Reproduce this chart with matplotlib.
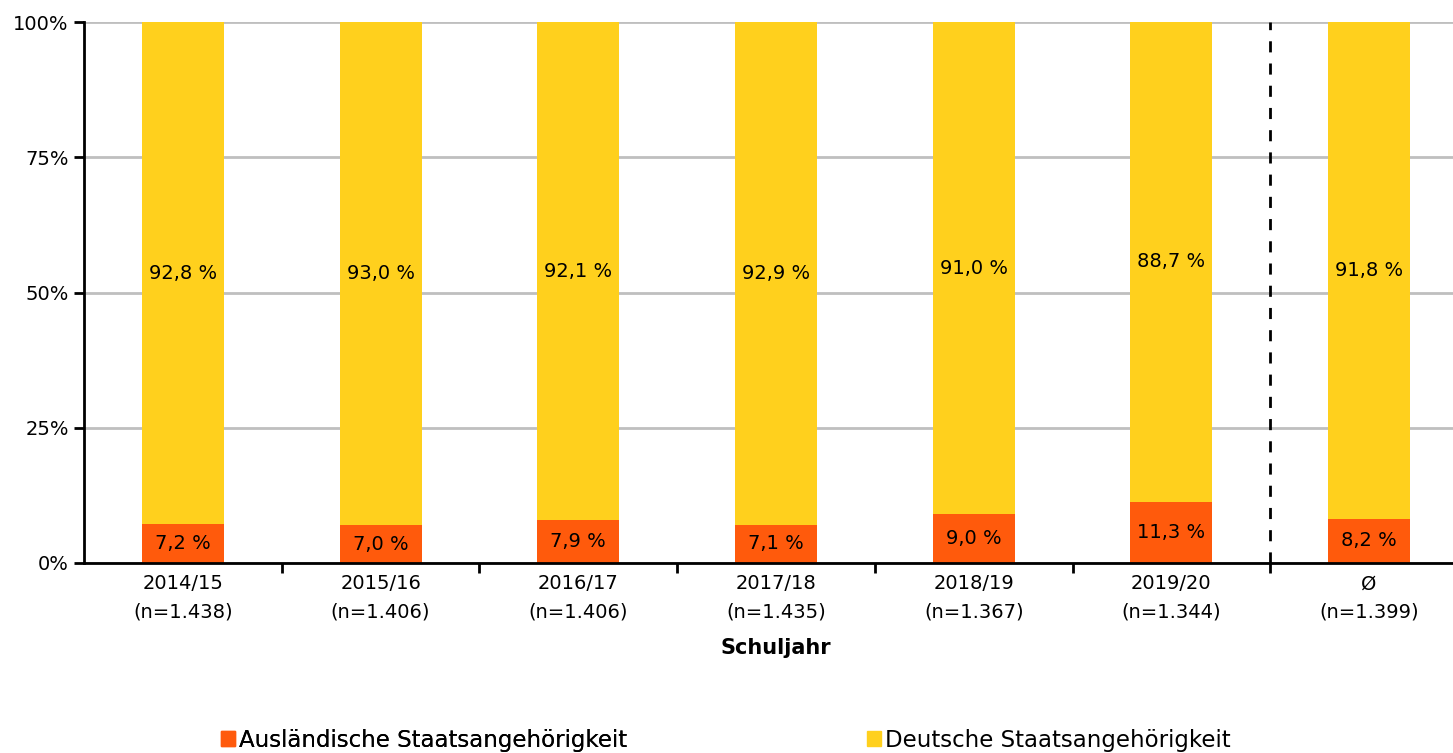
import matplotlib
matplotlib.use("Agg")
import matplotlib.pyplot as plt
from matplotlib.patches import Patch
from matplotlib.ticker import FixedLocator, FuncFormatter

categories = ["2014/15", "2015/16", "2016/17", "2017/18", "2018/19", "2019/20", "Ø"]
n_values = ["1.438", "1.406", "1.406", "1.435", "1.367", "1.344", "1.399"]
auslaendisch = [7.2, 7.0, 7.9, 7.1, 9.0, 11.3, 8.2]
deutsch = [92.8, 93.0, 92.1, 92.9, 91.0, 88.7, 91.8]

ORANGE = "#FF5A0C"
YELLOW = "#FFD01D"

W, H = 1453, 753
fig = plt.figure(figsize=(W / 100, H / 100), dpi=100)
ax = fig.add_axes([84 / W, (H - 563) / H, 1384 / W, 541 / H])

x = list(range(len(categories)))
bw = 0.415
ax.bar(x, auslaendisch, width=bw, color=ORANGE, zorder=3)
ax.bar(x, deutsch, width=bw, bottom=auslaendisch, color=YELLOW, zorder=3)

fs = 14
for i in x:
    ax.text(i, auslaendisch[i] / 2, f"{auslaendisch[i]:.1f} %".replace(".", ","),
            ha="center", va="center", fontsize=fs, zorder=4)
    ax.text(i, auslaendisch[i] + deutsch[i] / 2, f"{deutsch[i]:.1f} %".replace(".", ","),
            ha="center", va="center", fontsize=fs, zorder=4)

ax.set_xlim(-0.5, len(categories) - 0.5)
ax.set_ylim(0, 100)
ax.yaxis.set_major_locator(FixedLocator([0, 25, 50, 75, 100]))
ax.yaxis.set_major_formatter(FuncFormatter(lambda v, p: f"{int(v)}%"))
ax.grid(axis="y", color="#BFBFBF", linewidth=2, zorder=0)
ax.set_axisbelow(True)

ax.set_xticks(x)
ax.set_xticklabels([f"{c}\n(n={n})" for c, n in zip(categories, n_values)],
                   fontsize=fs, linespacing=1.6)
ax.tick_params(axis="x", length=0, pad=8)
ax.set_xticks([i + 0.5 for i in x[:-1]], minor=True)
ax.tick_params(axis="x", which="minor", length=7, width=2, direction="out")
ax.tick_params(axis="y", length=7, width=2, direction="out", labelsize=fs, pad=4)

for s in ["top", "right"]:
    ax.spines[s].set_visible(False)
ax.spines["left"].set_linewidth(2)
ax.spines["bottom"].set_linewidth(2)
ax.spines["left"].set_zorder(5)
ax.spines["bottom"].set_zorder(5)

ax.axvline(len(categories) - 1.5, color="black", linestyle=(0, (4, 4)), linewidth=2, zorder=5)

ax.set_xlabel("Schuljahr", fontsize=fs + 1, fontweight="bold", labelpad=12)

leg_font = {"family": "DejaVu Sans", "size": 16.5}
l1 = fig.legend(handles=[Patch(color=ORANGE, label="Ausländische Staatsangehörigkeit")],
                loc="center left", bbox_to_anchor=(221 / W, 1 - 740 / H), frameon=False,
                prop=leg_font, handlelength=0.6, handleheight=0.6, handletextpad=0.2,
                borderaxespad=0, borderpad=0)
fig.add_artist(l1)
fig.legend(handles=[Patch(color=YELLOW, label="Deutsche Staatsangehörigkeit")],
           loc="center left", bbox_to_anchor=(867 / W, 1 - 740 / H), frameon=False,
           prop=leg_font, handlelength=0.6, handleheight=0.6, handletextpad=0.2,
           borderaxespad=0, borderpad=0)

fig.savefig("out.png", dpi=100)
